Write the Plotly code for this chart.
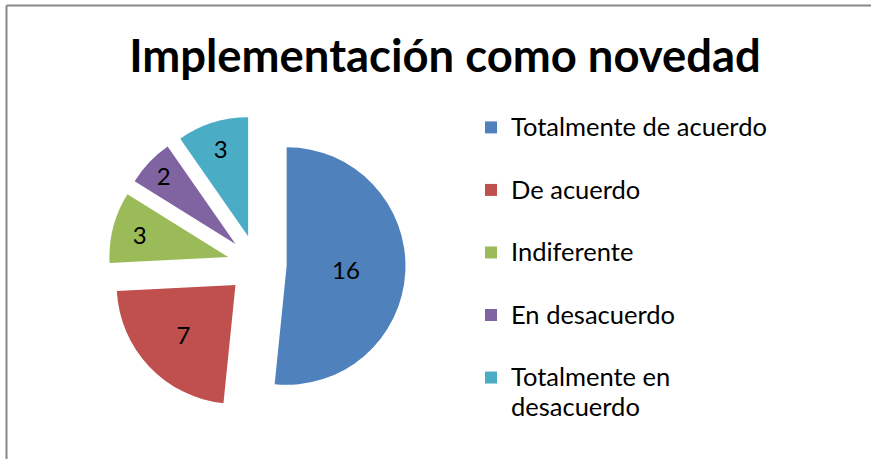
import plotly.graph_objects as go

title_text = "Implementación como novedad"
categories = ["Totalmente de acuerdo", "De acuerdo", "Indiferente", "En desacuerdo", "Totalmente en<br>desacuerdo"]
values = [16, 7, 3, 2, 3]
colors = ["#4F81BD", "#C0504D", "#9BBB59", "#8064A2", "#4BACC6"]

W, H = 871, 459
FONT = "Lato, 'Open Sans', sans-serif"
LEG_TEXT_PX = 25.5   # visible legend text size
LEG_BASE_PX = 22.9   # base size driving row spacing


def legend_label(c):
    lines = c.split("<br>")
    styled = "<br>".join(f"<span style='font-size:{LEG_TEXT_PX}px'>{ln}</span>" for ln in lines)
    if len(lines) == 1:
        styled += "<br> "   # blank line to widen row spacing like the original
    return styled


legend_labels = [legend_label(c) for c in categories]

fig = go.Figure(go.Pie(
    labels=legend_labels,
    values=values,
    marker=dict(colors=colors, line=dict(width=0)),
    sort=False,
    direction="clockwise",
    rotation=0,
    pull=[0.25] * len(values),
    textinfo="value",
    textposition="inside",
    insidetextorientation="horizontal",
    textfont=dict(family=FONT, size=24, color="black"),
    domain=dict(x=[108 / W, 406 / W], y=[(H - 413) / H, (H - 116) / H]),
    hoverinfo="value",
))

fig.update_layout(
    width=W, height=H,
    margin=dict(l=0, r=0, t=0, b=0),
    paper_bgcolor="white",
    plot_bgcolor="white",
    font=dict(family=FONT, color="black"),
    title=dict(text="<b>" + title_text + "</b>", x=445 / W, xanchor="center",
               y=(H - 56) / H, yanchor="middle", yref="container",
               font=dict(family=FONT, size=45.4, color="black")),
    legend=dict(x=471 / W, xanchor="left", y=(H - 106) / H, yanchor="top",
                valign="top", font=dict(family=FONT, size=LEG_BASE_PX, color="black"),
                bgcolor="rgba(0,0,0,0)"),
    shapes=[
        dict(type="line", xref="paper", yref="paper", x0=6.5 / W, x1=1.01, y0=(H - 5.5) / H, y1=(H - 5.5) / H,
             line=dict(color="#878787", width=2)),
        dict(type="line", xref="paper", yref="paper", x0=6.5 / W, x1=6.5 / W, y0=(H - 5.5) / H, y1=-0.01,
             line=dict(color="#878787", width=2)),
    ],
)

fig.write_html(
    "out.html",
    config={"displayModeBar": False},
    post_script="document.body.style.margin='0';document.body.style.overflow='hidden';",
)
